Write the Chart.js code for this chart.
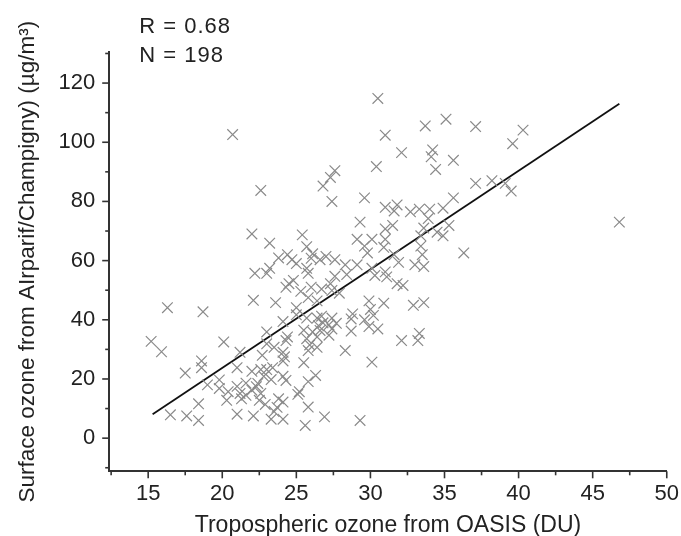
<!DOCTYPE html>
<html>
<head>
<meta charset="utf-8">
<script src="https://cdn.jsdelivr.net/npm/chart.js@4.4.0/dist/chart.umd.min.js"></script>
<style>
  html, body { margin: 0; padding: 0; background: #fff; }
</style>
</head>
<body>
<canvas id="myChart" width="681" height="536"></canvas>
<script>
'use strict';

// tropospheric ozone from OASIS (DU)
let ozoneDU = [
  30.5, 20.7, 35.1, 33.7, 37.1, 40.3, 31.0, 39.6, 32.1, 34.2,
  34.1, 35.6, 34.4, 30.4, 27.6, 27.3, 26.8, 22.6, 27.4, 29.6,
  37.1, 38.2, 39.1, 39.5, 35.6, 31.0, 31.8, 32.7, 33.3, 34.0,
  34.9, 31.6, 46.8, 33.9, 33.6, 34.5, 34.9, 35.3, 29.3, 31.0,
  31.5, 33.4, 33.4, 31.0, 30.1, 29.1, 29.6, 30.9, 36.3, 33.5,
  31.6, 31.9, 33.0, 33.6, 29.8, 29.1, 30.1, 31.0, 31.1, 31.8,
  32.2, 30.3, 22.0, 25.4, 23.2, 25.7, 24.4, 23.8, 24.7, 26.0,
  26.6, 27.0, 27.6, 26.1, 22.2, 23.0, 23.2, 25.7, 25.8, 25.0,
  28.3, 27.6, 27.3, 28.4, 24.8, 24.5, 25.3, 26.0, 26.7, 27.4,
  27.9, 24.3, 22.1, 23.6, 25.0, 25.8, 26.4, 30.9, 29.9, 33.6,
  32.9, 25.0, 25.7, 26.4, 26.7, 27.4, 28.8, 30.0, 30.2, 29.6,
  16.3, 18.7, 24.1, 26.8, 27.2, 27.7, 28.7, 25.5, 26.1, 26.6,
  27.4, 28.7, 29.9, 30.5, 26.4, 27.2, 25.7, 23.0, 24.4, 33.3,
  33.2, 32.1, 24.3, 20.1, 15.2, 23.0, 23.5, 25.9, 15.9, 21.2,
  25.8, 28.3, 26.4, 24.1, 22.7, 30.1, 18.6, 18.6, 17.5, 25.5,
  24.1, 21.0, 22.0, 22.6, 23.0, 23.4, 26.3, 24.1, 24.3, 19.0,
  19.8, 22.8, 23.3, 21.6, 22.0, 22.3, 21.0, 25.8, 25.2, 25.1,
  19.8, 20.4, 21.2, 21.6, 22.6, 20.3, 21.3, 22.5, 22.9, 23.8,
  24.1, 23.7, 18.4, 21.0, 16.5, 17.6, 22.1, 18.4, 23.3, 24.1,
  26.9, 29.3, 25.6, 23.5, 26.5, 24.2, 22.4, 25.8
];

// surface ozone from Airparif/Champigny (ug/m3)
let surfaceOzone = [
  114.8, 102.6, 107.8, 105.5, 105.3, 104.1, 102.4, 99.5, 96.5, 97.4,
  95.1, 93.9, 90.8, 91.8, 90.4, 88.1, 85.2, 83.7, 80.0, 81.2,
  86.1, 87.0, 86.1, 83.5, 81.2, 78.0, 78.8, 76.5, 77.4, 77.4,
  77.7, 76.8, 73.0, 74.2, 71.0, 69.6, 68.4, 71.9, 73.0, 70.7,
  71.9, 68.4, 64.9, 67.2, 67.2, 67.2, 64.9, 64.5, 62.6, 62.0,
  62.0, 59.4, 58.6, 58.0, 62.6, 58.6, 57.4, 56.2, 54.5, 52.2,
  51.6, 55.0, 69.0, 68.7, 65.9, 64.7, 62.0, 60.9, 60.3, 60.8,
  60.3, 61.4, 60.3, 62.3, 55.7, 55.7, 57.4, 57.4, 55.7, 59.0,
  58.6, 54.7, 52.2, 55.3, 53.3, 52.2, 49.6, 51.0, 50.4, 49.9,
  49.0, 51.0, 46.6, 45.8, 44.1, 47.5, 46.4, 45.6, 46.4, 45.8,
  44.9, 41.7, 40.6, 40.6, 41.2, 40.6, 42.0, 43.5, 41.5, 40.0,
  44.1, 42.7, 39.4, 39.0, 38.3, 38.8, 40.3, 36.5, 35.9, 36.4,
  36.9, 36.2, 37.7, 36.9, 34.2, 34.8, 33.6, 35.9, 34.2, 35.4,
  33.0, 33.0, 33.0, 32.5, 32.7, 31.9, 30.7, 31.5, 29.2, 29.0,
  29.6, 29.6, 30.7, 29.0, 28.0, 25.7, 26.1, 23.8, 22.0, 25.5,
  26.1, 23.8, 22.6, 23.2, 23.2, 23.8, 21.2, 20.9, 19.5, 18.0,
  19.7, 20.9, 19.8, 18.6, 16.2, 17.4, 17.5, 19.1, 15.7, 14.8,
  16.8, 15.7, 15.1, 14.5, 15.1, 12.8, 13.3, 12.8, 11.4, 13.3,
  12.2, 10.4, 11.6, 8.1, 7.9, 7.5, 7.5, 6.0, 6.4, 6.4,
  7.2, 6.0, 4.3, 9.0, 38.0, 27.5, 18.5, 10.5
];

// regression line end points
let fitX = [15.3, 46.8];
let fitY = [8.1, 113.0];

let statLabels = ['R = 0.68', 'N = 198'];

let fontFamily = '"Liberation Sans", Arial, sans-serif';

let points = [];
for (let i = 0; i < ozoneDU.length; i++) {
  points.push({ x: ozoneDU[i], y: surfaceOzone[i] });
}

let fitLine = [];
for (let i = 0; i < fitX.length; i++) {
  fitLine.push({ x: fitX[i], y: fitY[i] });
}

// ticks drawn by hand so the minor ones can be shorter
let tickMarks = {
  id: 'tickMarks',
  afterDraw(chart) {
    let ctx = chart.ctx;
    let xs = chart.scales.x;
    let ys = chart.scales.y;
    let area = chart.chartArea;
    ctx.save();
    ctx.strokeStyle = '#333';
    ctx.lineWidth = 1.6;

    for (let v = 12.5; v <= xs.max + 0.01; v += 2.5) {
      if (v < xs.min) continue;
      let px = xs.getPixelForValue(v);
      let len = v % 5 === 0 ? 7 : 4;
      ctx.beginPath();
      ctx.moveTo(px, area.bottom);
      ctx.lineTo(px, area.bottom + len);
      ctx.stroke();
    }
    for (let v = -10; v <= ys.max; v += 10) {
      let py = ys.getPixelForValue(v);
      let len = v % 20 === 0 ? 7 : 4;
      ctx.beginPath();
      ctx.moveTo(area.left - len, py);
      ctx.lineTo(area.left, py);
      ctx.stroke();
    }

    ctx.fillStyle = '#222';
    ctx.font = '22px ' + fontFamily;
    ctx.letterSpacing = '1px';
    ctx.textBaseline = 'middle';
    ctx.textAlign = 'left';
    ctx.fillText(statLabels[0], area.left + 30, 27);
    ctx.fillText(statLabels[1], area.left + 30, 56);
    ctx.restore();
  }
};

let ctx = document.getElementById('myChart').getContext('2d');
let myChart = new Chart(ctx, {
  type: 'scatter',
  data: {
    datasets: [{
      data: points,
      pointStyle: 'crossRot',
      pointRadius: 7.5,
      borderColor: '#8a8a8a',
      backgroundColor: 'rgba(0,0,0,0)',
      borderWidth: 1.2
    }, {
      type: 'line',
      data: fitLine,
      borderColor: '#111',
      borderWidth: 1.8,
      pointRadius: 0,
      fill: false
    }]
  },
  options: {
    responsive: false,
    animation: false,
    layout: { padding: { top: 52, right: 0, left: 0, bottom: 0 } },
    plugins: {
      legend: { display: false },
      tooltip: { enabled: false }
    },
    scales: {
      x: {
        type: 'linear',
        min: 12.37,
        max: 50,
        grid: { display: false, drawTicks: true, tickLength: 10 },
        border: { display: true, color: '#333', width: 2 },
        ticks: {
          stepSize: 5,
          includeBounds: false,
          padding: 2,
          color: '#222',
          font: { size: 22, family: fontFamily, lineHeight: 1 }
        },
        title: {
          display: true,
          text: 'Tropospheric ozone from OASIS (DU)',
          color: '#222',
          font: { size: 23, family: fontFamily, lineHeight: 0.9 },
          padding: { top: 8, bottom: 0 }
        }
      },
      y: {
        min: -11.2,
        max: 130.5,
        grid: { display: false, drawTicks: false },
        border: { display: true, color: '#333', width: 2 },
        ticks: {
          stepSize: 20,
          includeBounds: false,
          padding: 14,
          color: '#222',
          font: { size: 22, family: fontFamily }
        },
        title: {
          display: true,
          text: 'Surface ozone from AIrparif/Champigny) (\u00b5g/m\u00b3)',
          color: '#222',
          font: { size: 22.5, family: fontFamily, lineHeight: 1 },
          padding: { top: 17, bottom: 5 }
        }
      }
    }
  },
  plugins: [tickMarks]
});
</script>
</body>
</html>
